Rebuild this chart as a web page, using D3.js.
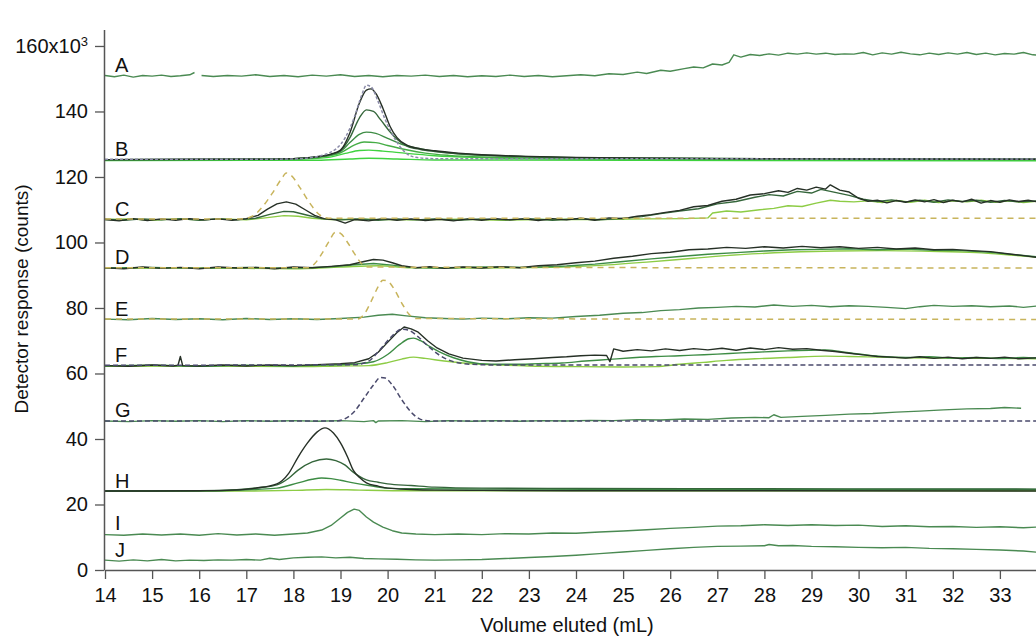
<!DOCTYPE html>
<html>
<head>
<meta charset="utf-8">
<script src="https://cdn.jsdelivr.net/npm/d3@7"></script>
<style>
  body { margin: 0; background: #fff; }
  text { font-family: "Liberation Sans", Arial, sans-serif; fill: #111; }
</style>
</head>
<body>
<div id="chart"></div>
<script>
// panel labels and the value of each trace's baseline (x10^3 counts)
var panelLabels = ["A", "B", "C", "D", "E", "F", "G", "H", "I", "J"];
var labelBaselines = [151.0, 125.3, 107.0, 92.3, 76.6, 62.4, 45.5, 24.1, 11.0, 3.0];

var xTicks = [14, 15, 16, 17, 18, 19, 20, 21, 22, 23, 24, 25, 26, 27, 28, 29, 30, 31, 32, 33];
var yTicks = [0, 20, 40, 60, 80, 100, 120, 140, 160];

// traces: [volume eluted (mL), detector response (x10^3 counts)]
var A1 = [[14,151.0],[14.2,150.6],[14.4,151.1],[14.6,150.5],[14.8,151.0],[15.0,150.8],[15.2,151.1],[15.4,150.7],[15.6,150.9],[15.8,151.2],[15.9,151.9]];
var A2 = [[16.05,151.0],[16.3,150.7],[16.6,151.0],[16.9,150.8],[17.2,151.2],[17.5,150.7],[17.8,151.0],[18.1,150.6],[18.4,151.1],[18.7,150.8],[19.0,151.2],[19.3,150.7],[19.6,151.0],[19.9,150.6],[20.2,151.0],[20.5,150.8],[20.8,151.1],[21.1,150.7],[21.4,151.0],[21.7,150.6],[22.0,150.9],[22.3,150.7],[22.6,151.1],[22.9,150.7],[23.2,151.0],[23.5,150.6],[23.8,150.9],[24.1,151.2],[24.4,150.9],[24.7,151.5],[25.0,151.3],[25.3,152.0],[25.5,151.6],[25.8,152.6],[26.0,152.3],[26.3,153.1],[26.5,153.6],[26.7,153.3],[26.9,154.5],[27.1,154.2],[27.25,155.0],[27.35,157.3],[27.5,156.6],[27.7,157.4],[27.9,157.1],[28.1,157.6],[28.3,157.2],[28.5,157.8],[28.7,157.5],[28.9,157.9],[29.1,157.5],[29.3,157.8],[29.5,157.4],[29.7,157.6],[29.9,157.5],[30.1,158.0],[30.3,157.3],[30.5,157.9],[30.7,157.5],[30.9,158.1],[31.1,157.6],[31.3,157.3],[31.5,157.8],[31.7,157.4],[31.9,157.9],[32.1,157.5],[32.3,158.0],[32.5,157.4],[32.7,157.8],[32.9,157.3],[33.1,157.7],[33.3,157.5],[33.5,158.0],[33.7,157.3],[33.9,157.2]];

var Bdot = [[14,125.4],[17,125.4],[18,125.5],[18.4,126.0],[18.7,127.0],[18.9,128.5],[19.1,132],[19.3,138.5],[19.45,145],[19.55,148],[19.65,147.5],[19.8,143],[19.95,137.5],[20.1,133],[20.25,129.5],[20.4,127.2],[20.6,126.0],[21,125.6],[34,125.5]];
var Bblack = [[14,125.3],[16,125.4],[17,125.4],[18,125.6],[18.5,126.2],[18.8,127.0],[19.0,128.2],[19.2,133.5],[19.4,142.5],[19.55,146.5],[19.65,146.9],[19.75,145.5],[19.9,141],[20.05,135.5],[20.2,132],[20.4,129.8],[20.7,128.6],[21.0,128.0],[21.5,127.3],[22,126.8],[23,126.3],[24,126.0],[25,125.8],[27,125.6],[30,125.5],[34,125.4]];
var Bg1 = [[14,125.3],[17,125.4],[18,125.6],[18.5,126.1],[18.8,126.9],[19.0,128.0],[19.2,132.0],[19.4,138.0],[19.55,140.5],[19.7,140.0],[19.85,137.5],[20.05,133.8],[20.2,131.5],[20.4,129.5],[20.7,128.4],[21.0,127.8],[21.5,127.1],[22,126.7],[23,126.2],[24,125.9],[26,125.7],[30,125.5],[34,125.4]];
var Bg2 = [[14,125.3],[17,125.4],[18,125.6],[18.6,126.3],[19.0,127.8],[19.2,130.5],[19.4,133.0],[19.55,133.7],[19.75,133.3],[20.0,131.8],[20.3,130.0],[20.6,128.9],[21.0,127.9],[21.5,127.1],[22,126.6],[23,126.1],[25,125.7],[34,125.4]];
var Bg3 = [[14,125.2],[17,125.3],[18,125.5],[18.6,126.1],[19.0,127.4],[19.3,129.8],[19.5,130.7],[19.75,130.5],[20.0,129.6],[20.4,128.3],[20.8,127.3],[21.3,126.6],[22,126.1],[24,125.6],[34,125.3]];
var Bg4 = [[14,125.1],[17,125.2],[18,125.4],[18.7,125.9],[19.1,127.2],[19.4,128.1],[19.6,128.2],[19.9,127.9],[20.4,127.2],[21,126.5],[22,125.9],[24,125.4],[34,125.1]];
var Bg5 = [[14,125.0],[18.5,125.1],[19.2,125.5],[19.6,125.7],[20.2,125.5],[21,125.2],[34,124.9]];

var Cdash = [[14,107.2],[16.9,107.2],[17.15,108.2],[17.35,111],[17.55,115],[17.75,119.5],[17.85,121.2],[17.95,120.5],[18.15,116.5],[18.35,112],[18.55,108.5],[18.75,107.4],[34,107.4]];
var Cblack = [[14,107.0],[14.3,106.6],[14.6,107.3],[14.9,106.7],[15.2,107.2],[15.5,106.8],[15.8,107.3],[16.1,106.9],[16.4,107.2],[16.7,106.8],[17.0,107.3],[17.25,108.3],[17.45,110.2],[17.65,111.8],[17.85,112.4],[18.05,111.7],[18.25,110.0],[18.45,108.3],[18.65,107.3],[18.9,106.9],[19.1,105.9],[19.3,107.0],[19.6,106.6],[19.9,107.3],[20.2,106.8],[20.5,107.2],[20.8,106.7],[21.1,107.1],[21.4,106.6],[21.7,107.2],[22.0,106.8],[22.3,107.3],[22.6,106.9],[22.9,107.2],[23.2,106.7],[23.5,107.3],[23.8,106.9],[24.1,107.4],[24.4,106.8],[24.7,107.5],[25.0,107.3],[25.3,108.0],[25.6,108.5],[25.9,109.2],[26.2,109.8],[26.5,110.9],[26.8,111.3],[27.1,112.6],[27.4,113.2],[27.7,114.5],[28.0,114.9],[28.3,115.8],[28.5,115.3],[28.7,116.5],[28.9,116.0],[29.1,116.9],[29.3,116.3],[29.4,117.6],[29.6,116.0],[29.8,115.4],[30.0,113.5],[30.2,112.6],[30.4,112.9],[30.6,112.1],[30.8,112.8],[31.0,112.3],[31.2,113.0],[31.4,112.4],[31.6,113.1],[31.8,112.2],[32.0,112.9],[32.2,112.4],[32.4,113.2],[32.6,112.0],[32.8,112.8],[33.0,112.3],[33.2,113.0],[33.4,112.5],[33.6,112.9],[33.8,112.4]];
var Cgreen = [[14,107.1],[14.4,106.8],[14.8,107.2],[15.2,106.9],[15.6,107.3],[16.0,106.8],[16.4,107.2],[16.8,106.9],[17.2,107.4],[17.5,108.6],[17.8,109.5],[18.0,109.4],[18.3,108.3],[18.6,107.3],[19.0,106.9],[19.4,107.2],[19.8,106.8],[20.2,107.2],[20.6,106.9],[21.0,107.2],[21.5,106.8],[22.0,107.2],[22.5,106.9],[23.0,107.3],[23.5,106.8],[24.0,107.2],[24.5,106.9],[25.0,107.4],[25.4,107.9],[25.8,108.8],[26.2,109.6],[26.6,110.3],[27.0,111.8],[27.4,112.5],[27.8,113.8],[28.1,114.6],[28.4,114.2],[28.7,115.6],[29.0,115.1],[29.2,116.2],[29.5,115.3],[29.8,114.4],[30.1,113.2],[30.4,112.5],[30.7,113.0],[31.0,112.4],[31.3,112.9],[31.6,112.3],[31.9,113.0],[32.2,112.5],[32.5,112.9],[32.8,112.3],[33.1,112.8],[33.4,112.4],[33.8,112.7]];
var Clight = [[14,107.0],[14.5,107.2],[15,106.8],[15.5,107.2],[16,106.9],[16.5,107.2],[17,106.9],[17.4,107.5],[17.8,108.2],[18.1,108.0],[18.4,107.4],[18.8,107.0],[19.5,107.1],[20.5,106.9],[21.5,107.1],[22.5,106.8],[23.5,107.1],[24.5,107.0],[25.5,107.2],[26.3,107.3],[26.8,107.5],[26.9,109.0],[27.2,109.6],[27.5,109.3],[27.9,110.0],[28.2,110.4],[28.5,111.2],[28.8,111.0],[29.1,112.0],[29.4,112.9],[29.6,112.6],[29.9,112.4],[30.2,112.7],[30.5,112.2],[30.8,112.8],[31.1,112.3],[31.4,112.9],[31.7,112.2],[32.0,112.7],[32.3,112.4],[32.6,112.9],[32.9,112.3],[33.2,112.7],[33.5,112.2],[33.8,112.6]];

var Ddash = [[14,92.3],[18.3,92.3],[18.45,93.5],[18.6,96.5],[18.75,100.2],[18.9,103.2],[19.0,102.8],[19.15,100],[19.3,96.5],[19.45,93.5],[19.6,92.5],[34,92.2]];
var Dblack = [[14,92.3],[14.4,92.0],[14.8,92.5],[15.2,92.1],[15.6,92.4],[16.0,92.0],[16.4,92.5],[16.8,92.2],[17.2,92.4],[17.6,92.0],[18.0,92.5],[18.4,92.3],[18.8,92.7],[19.2,93.2],[19.5,94.2],[19.7,94.8],[19.9,94.6],[20.1,93.8],[20.3,92.9],[20.6,92.3],[20.9,92.6],[21.2,92.1],[21.6,92.5],[22.0,92.2],[22.4,92.6],[22.8,92.3],[23.2,92.9],[23.6,93.2],[24.0,93.8],[24.4,94.3],[24.8,95.2],[25.2,95.8],[25.6,96.6],[26.0,97.0],[26.4,97.8],[26.8,98.0],[27.2,98.5],[27.6,98.2],[28.0,98.7],[28.4,98.3],[28.8,98.8],[29.2,98.4],[29.6,98.7],[30.0,98.2],[30.4,98.5],[30.8,98.0],[31.2,98.3],[31.6,97.8],[32.0,97.9],[32.4,97.5],[32.8,97.2],[33.2,96.5],[33.5,96.0],[33.8,95.4]];
var Dgreen = [[14,92.2],[15,92.4],[16,92.1],[17,92.4],[18,92.1],[18.8,92.6],[19.3,93.2],[19.7,93.6],[20.1,93.1],[20.5,92.4],[21,92.2],[22,92.5],[23,92.4],[23.8,92.8],[24.4,93.4],[25.0,94.2],[25.6,95.0],[26.2,95.7],[26.8,96.4],[27.4,96.9],[28.0,97.4],[28.6,97.8],[29.2,97.9],[29.8,98.1],[30.4,97.8],[31.0,98.0],[31.6,97.6],[32.2,97.5],[32.8,97.0],[33.3,96.3],[33.8,95.6]];
var Dlight = [[14,92.1],[16,92.2],[18,92.0],[19,92.5],[19.8,92.9],[20.5,92.3],[22,92.2],[23.5,92.4],[24.5,93.0],[25.5,94.0],[26.5,95.2],[27.5,96.3],[28.5,97.0],[29.5,97.4],[30.5,97.5],[31.5,97.3],[32.5,96.9],[33.2,96.2],[33.8,95.5]];

var Edash = [[14,76.6],[19.35,76.6],[19.5,78],[19.65,82],[19.8,86.5],[19.9,88.5],[20.0,88.2],[20.15,85.5],[20.3,81.5],[20.45,78.2],[20.6,76.8],[34,76.5]];
var Esolid = [[14,76.6],[14.5,76.4],[15,76.8],[15.5,76.5],[16,76.7],[16.5,76.4],[17,76.8],[17.5,76.5],[18,76.7],[18.5,76.5],[19,76.8],[19.5,77.2],[19.8,77.8],[20.1,78.1],[20.4,77.6],[20.8,77.0],[21.2,76.8],[21.6,76.6],[22,76.9],[22.5,76.7],[23,77.0],[23.5,76.9],[24,77.4],[24.5,77.8],[25,78.4],[25.4,78.6],[25.8,79.2],[26.2,79.5],[26.6,80.0],[27,80.2],[27.4,80.5],[27.8,80.3],[28.2,80.9],[28.6,80.5],[29,80.8],[29.4,80.4],[29.8,80.7],[30.2,80.5],[30.6,80.2],[31,79.8],[31.3,80.4],[31.6,80.8],[32,80.5],[32.4,80.7],[32.8,80.4],[33.2,80.6],[33.5,80.2],[33.8,80.6]];

var Fdash = [[14,62.5],[19.3,62.7],[19.6,63.8],[19.85,67.5],[20.1,71.5],[20.3,73.5],[20.45,73.2],[20.65,71.2],[20.85,68.5],[21.1,65.6],[21.4,63.6],[21.8,62.8],[22.3,62.6],[34,62.6]];
var Fblack = [[14,62.4],[14.5,62.2],[15,62.6],[15.45,62.3],[15.55,62.5],[15.6,65.2],[15.65,62.4],[16,62.3],[16.5,62.6],[17,62.3],[17.5,62.6],[18,62.4],[18.5,62.7],[19,63.0],[19.3,63.3],[19.6,64.5],[19.8,66.5],[20.0,69.5],[20.2,72.5],[20.35,74.2],[20.5,73.6],[20.65,72.6],[20.85,70.0],[21.05,67.8],[21.3,66.0],[21.6,64.7],[22.0,64.0],[22.3,63.8],[22.7,64.2],[23.1,64.5],[23.5,64.9],[23.8,65.1],[24.1,65.4],[24.4,65.6],[24.65,65.5],[24.72,63.6],[24.8,67.5],[25.0,66.8],[25.3,67.3],[25.6,66.9],[25.9,67.5],[26.2,67.0],[26.5,67.6],[26.8,67.2],[27.1,67.7],[27.4,67.1],[27.7,67.8],[28.0,67.3],[28.3,67.9],[28.6,67.4],[28.9,67.6],[29.2,67.1],[29.5,66.7],[29.8,66.2],[30.1,65.7],[30.4,65.2],[30.7,65.0],[31.0,64.7],[31.3,65.1],[31.6,64.6],[31.9,65.0],[32.2,64.5],[32.5,64.9],[32.8,64.6],[33.1,65.0],[33.4,64.5],[33.8,64.8]];
var Fgreen = [[14,62.3],[15,62.5],[16,62.2],[17,62.5],[18,62.3],[18.8,62.6],[19.3,62.9],[19.7,63.6],[20.0,65.8],[20.25,68.8],[20.45,70.6],[20.55,70.8],[20.7,70.0],[20.9,68.2],[21.1,66.6],[21.4,64.8],[21.7,63.6],[22.2,62.8],[22.7,62.8],[23.2,63.0],[23.7,63.2],[24.2,63.8],[24.7,64.3],[25.2,64.8],[25.7,65.2],[26.2,65.4],[26.5,65.6],[27,65.9],[27.5,66.3],[28,66.6],[28.5,66.9],[29,67.1],[29.3,67.2],[29.6,66.7],[29.9,66.1],[30.2,65.6],[30.5,65.2],[31,64.9],[31.5,65.1],[32,64.7],[32.5,64.9],[33,64.6],[33.5,64.9],[33.8,64.7]];
var Flight = [[14,62.2],[16,62.3],[18,62.1],[19,62.3],[19.6,62.4],[20.0,63.3],[20.3,64.4],[20.55,65.0],[20.8,64.6],[21.2,63.8],[21.6,63.2],[22.2,62.7],[23,62.3],[24,62.1],[25,62.0],[25.7,62.1],[26.2,62.8],[26.7,63.4],[27.2,64.0],[27.8,64.5],[28.5,64.9],[29.3,65.3],[29.8,65.2],[30.4,65.0],[31,64.8],[32,64.7],[33,64.6],[33.8,64.5]];

var Gdash = [[14,45.5],[18.9,45.5],[19.1,46.2],[19.3,48.5],[19.5,52.5],[19.7,56.5],[19.85,58.8],[19.95,58.6],[20.1,56.5],[20.3,52.0],[20.5,48.2],[20.7,46.0],[20.9,45.5],[34,45.5]];
var Gsolid = [[14,45.5],[14.5,45.3],[15,45.6],[15.5,45.4],[16,45.6],[16.5,45.3],[17,45.6],[17.5,45.4],[18,45.6],[18.5,45.4],[19,45.6],[19.5,45.3],[19.7,45.6],[19.75,45.0],[19.8,45.5],[20.3,45.6],[20.8,45.3],[21.3,45.6],[21.8,45.4],[22.3,45.6],[22.8,45.4],[23.3,45.6],[23.8,45.5],[24.3,45.7],[24.8,45.6],[25.3,45.9],[25.8,45.8],[26.3,46.1],[26.8,46.0],[27.3,46.4],[27.8,46.6],[28.1,46.5],[28.2,47.4],[28.35,46.6],[28.8,46.9],[29.3,47.2],[29.8,47.6],[30.3,47.8],[30.8,48.2],[31.3,48.5],[31.8,48.9],[32.3,49.2],[32.8,49.3],[33.1,49.6],[33.45,49.4]];

var Hblack = [[14,24.1],[15,24.1],[16,24.2],[16.7,24.4],[17.2,25.0],[17.65,26.3],[17.9,29.5],[18.1,34.5],[18.3,38.8],[18.5,42.1],[18.67,43.4],[18.85,41.8],[19.0,38.8],[19.15,34.5],[19.27,30.5],[19.4,28.3],[19.55,26.6],[19.8,25.6],[20.0,25.0],[20.5,24.6],[21.0,24.4],[22,24.3],[24,24.2],[28,24.2],[34,24.1]];
var Hg1 = [[14,24.1],[16,24.2],[16.8,24.5],[17.3,25.2],[17.65,26.0],[17.9,28.0],[18.1,30.5],[18.4,33.0],[18.7,33.9],[18.9,33.4],[19.1,32.0],[19.27,29.9],[19.55,27.5],[19.8,26.8],[20.0,26.3],[20.5,25.8],[21.0,25.3],[22,25.0],[24,24.9],[28,24.8],[34,24.7]];
var Hg2 = [[14,24.1],[16.5,24.2],[17.2,24.6],[17.65,25.0],[18.1,26.6],[18.4,27.7],[18.6,28.1],[18.8,27.9],[19.0,27.4],[19.27,26.6],[19.6,25.8],[20.0,25.0],[20.5,24.8],[22,24.7],[26,24.6],[34,24.6]];
var Hlight = [[14,24.0],[17,24.1],[18,24.3],[18.7,24.6],[19.4,24.4],[20.5,24.2],[34,24.2]];

var Isolid = [[14,10.8],[14.4,10.6],[14.8,11.0],[15.2,10.7],[15.6,11.0],[16.0,10.6],[16.4,11.1],[16.8,10.7],[17.2,11.0],[17.6,10.6],[18.0,11.0],[18.3,11.3],[18.6,12.2],[18.8,13.6],[19.0,15.9],[19.15,17.6],[19.29,18.6],[19.4,18.2],[19.55,16.2],[19.7,14.6],[19.9,13.1],[20.1,12.0],[20.3,11.3],[20.6,11.0],[21.0,10.8],[21.5,11.0],[22.0,10.8],[22.5,11.1],[23.0,11.0],[23.5,11.3],[24.0,11.2],[24.5,11.6],[25.0,11.9],[25.5,12.3],[26.0,12.7],[26.5,13.0],[27.0,13.4],[27.5,13.5],[28.0,13.8],[28.5,13.6],[29.0,13.8],[29.5,13.6],[30.0,13.7],[30.5,13.3],[31.0,13.5],[31.5,13.2],[32.0,13.3],[32.5,13.0],[33.0,13.2],[33.5,12.9],[33.8,13.1]];

var Jsolid = [[14,3.0],[14.3,2.7],[14.6,3.1],[14.9,2.8],[15.2,3.2],[15.5,2.8],[15.8,3.0],[16.1,2.9],[16.4,3.1],[16.7,3.0],[17.0,3.2],[17.3,3.0],[17.5,3.6],[17.7,3.2],[18.0,3.7],[18.3,3.9],[18.6,4.0],[18.9,3.7],[19.2,3.9],[19.5,3.5],[19.8,3.4],[20.2,3.3],[20.6,3.1],[21.0,3.0],[21.5,3.1],[22.0,3.2],[22.5,3.5],[23.0,3.8],[23.5,4.1],[24.0,4.5],[24.5,5.0],[25.0,5.5],[25.5,6.0],[26.0,6.5],[26.5,6.9],[27.0,7.2],[27.5,7.3],[28.0,7.4],[28.1,7.8],[28.3,7.4],[28.6,7.5],[29.0,7.2],[29.5,7.1],[30.0,6.9],[30.5,6.8],[31.0,6.9],[31.5,6.6],[32.0,6.5],[32.5,6.3],[33.0,6.1],[33.5,5.8],[33.8,5.4]];

// colours
var cBlack = "#263026", cDark = "#35663b", cMid = "#3d8c44", cGreen = "#45ad45",
    cBright = "#3fd23f", cLime = "#8dcc45", cSingle = "#4a8a52",
    cTan = "#c8b45c", cNavy = "#4a4a6c", cDot = "#8a8aa8";

// draw order: light first, dark on top, dashed last
// noisy traces are drawn with straight segments, clean peaks are smoothed
var traces = [
  {d: A1, c: cSingle, noisy: true}, {d: A2, c: cSingle, noisy: true},
  {d: Bg5, c: cBright}, {d: Bg4, c: cBright}, {d: Bg3, c: cGreen}, {d: Bg2, c: cMid}, {d: Bg1, c: cDark}, {d: Bblack, c: cBlack},
  {d: Clight, c: cLime, noisy: true}, {d: Cgreen, c: cDark, noisy: true}, {d: Cblack, c: cBlack, noisy: true},
  {d: Dlight, c: cLime}, {d: Dgreen, c: cMid, noisy: true}, {d: Dblack, c: cBlack, noisy: true},
  {d: Esolid, c: cSingle, noisy: true},
  {d: Flight, c: cLime}, {d: Fgreen, c: cMid}, {d: Fblack, c: cBlack, noisy: true},
  {d: Gsolid, c: cSingle, noisy: true},
  {d: Hlight, c: cLime}, {d: Hg2, c: cMid}, {d: Hg1, c: cDark}, {d: Hblack, c: cBlack},
  {d: Isolid, c: cSingle, noisy: true},
  {d: Jsolid, c: cSingle, noisy: true},
  {d: Bdot, c: cDot, dash: "3,2"},
  {d: Cdash, c: cTan, dash: "6,5"},
  {d: Ddash, c: cTan, dash: "6,5"},
  {d: Edash, c: cTan, dash: "6,5"},
  {d: Fdash, c: cNavy, dash: "5,3"},
  {d: Gdash, c: cNavy, dash: "5,3"}
];

var svgWidth = 1036;
var svgHeight = 639;

var svg = d3.select("#chart")
  .append("svg")
  .attr("width", svgWidth)
  .attr("height", svgHeight);

var x = d3.scaleLinear().domain([14, 34]).range([105, 1047]);
var y = d3.scaleLinear().domain([0, 165]).range([570, 29.6]);

var smoothLine = d3.line()
  .x(d => x(d[0]))
  .y(d => y(d[1]))
  .curve(d3.curveMonotoneX);
var roughLine = d3.line()
  .x(d => x(d[0]))
  .y(d => y(d[1]))
  .curve(d3.curveLinear);

svg.append("g")
  .selectAll("path")
  .data(traces)
  .enter()
  .append("path")
  .attr("d", t => t.noisy ? roughLine(t.d) : smoothLine(t.d))
  .attr("fill", "none")
  .attr("stroke", t => t.c)
  .attr("stroke-width", t => t.dash ? 1.5 : 1.4)
  .attr("stroke-dasharray", t => t.dash || null)
  .attr("stroke-linejoin", "round");

// panel letters
svg.append("g")
  .selectAll("text")
  .data(panelLabels)
  .enter()
  .append("text")
  .attr("x", 115)
  .attr("y", (d, i) => y(labelBaselines[i]) - 3.5)
  .style("font-size", "20px")
  .text(d => d);

// axes
var xAxis = svg.append("g")
  .attr("transform", "translate(0,570)")
  .call(d3.axisBottom(x).tickValues(xTicks).tickSize(9).tickSizeOuter(0).tickPadding(9));

var yAxis = svg.append("g")
  .attr("transform", "translate(104,0)")
  .call(d3.axisLeft(y).tickValues(yTicks).tickSize(9).tickSizeOuter(0).tickPadding(7));

[xAxis, yAxis].forEach(function(g) {
  g.select(".domain").attr("stroke", "#555").attr("stroke-width", 1.5);
  g.selectAll(".tick line").attr("stroke", "#555").attr("stroke-width", 1.3);
  g.selectAll(".tick text")
    .attr("fill", "#111")
    .style("font-family", "'Liberation Sans', Arial, sans-serif")
    .style("font-size", "20px");
});

// top label gets the x10^3 multiplier
yAxis.selectAll(".tick text")
  .filter(d => d === 160)
  .text("160x10")
  .append("tspan")
  .attr("dy", "-0.55em")
  .style("font-size", "13px")
  .text("3");

svg.append("text")
  .attr("x", 567)
  .attr("y", 632)
  .attr("text-anchor", "middle")
  .style("font-size", "20px")
  .text("Volume eluted (mL)");

svg.append("text")
  .attr("transform", "translate(28,299) rotate(-90)")
  .attr("text-anchor", "middle")
  .style("font-size", "19px")
  .text("Detector response (counts)");
</script>
</body>
</html>
